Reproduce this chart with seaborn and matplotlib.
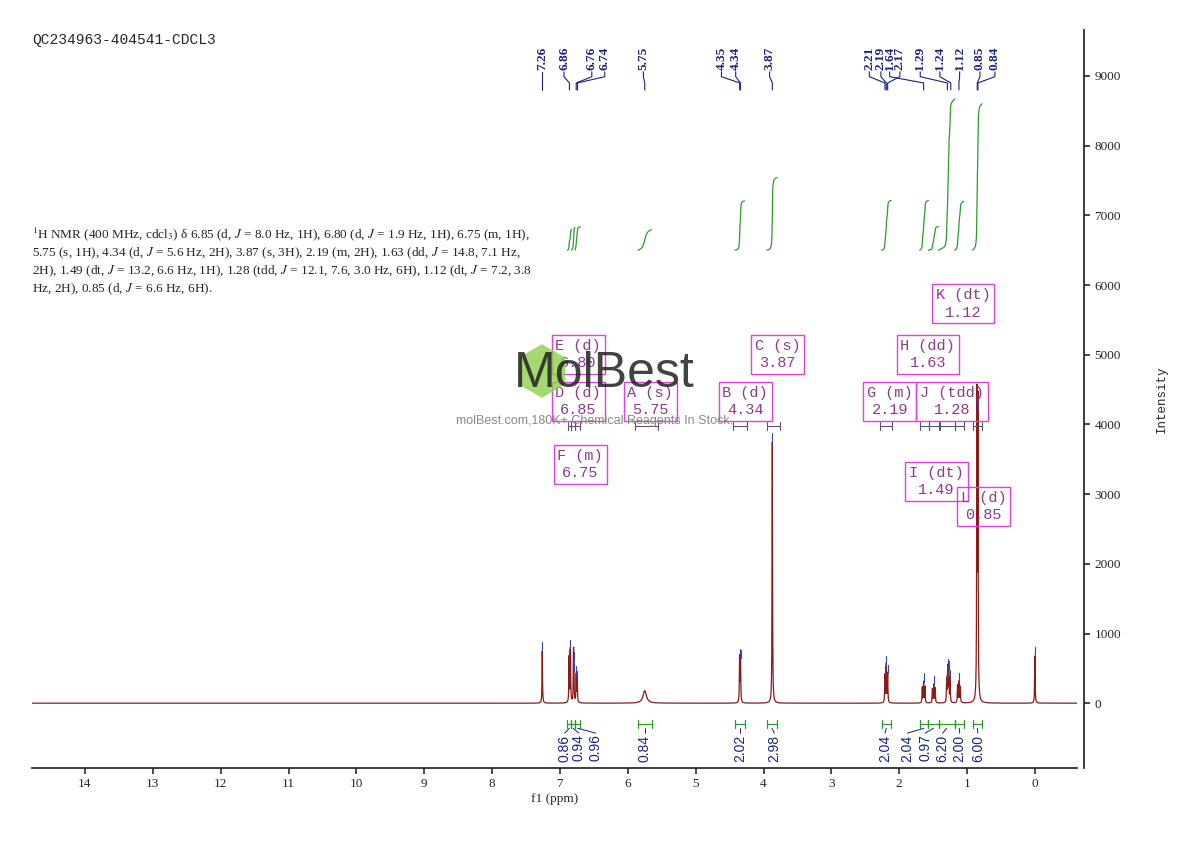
import numpy as np
import seaborn as sns
import matplotlib.pyplot as plt

sns.set_theme(style="white")
plt.rcParams["font.family"] = ["Liberation Serif", "DejaVu Sans"]

# peaks: shift (ppm), height
peak_ppm = [7.26, 6.865, 6.845, 6.80, 6.795, 6.76, 6.745, 5.75, 4.352, 4.338, 3.87,
            2.21, 2.19, 2.17, 1.66, 1.64, 1.62, 1.51, 1.49, 1.47, 1.30, 1.285, 1.27, 1.25,
            1.14, 1.12, 1.10, 0.855, 0.84, 0.0]
peak_height = [750, 650, 770, 600, 450, 400, 330, 180, 650, 640, 3750,
               400, 550, 420, 220, 300, 230, 200, 260, 210, 330, 500, 480, 350,
               250, 300, 230, 4300, 4200, 680]
peak_width = [0.004] * 7 + [0.03] + [0.004] * 21 + [0.004]

# top peak labels: label text, label x (ppm), true shift
top_labels = ["7.26", "6.86", "6.76", "6.74", "5.75", "4.35", "4.34", "3.87",
              "2.21", "2.19", "1.64", "2.17", "1.29", "1.24", "1.12", "0.85", "0.84"]
top_label_x = [7.26, 6.94, 6.53, 6.34, 5.77, 4.62, 4.41, 3.91,
               2.44, 2.27, 2.14, 1.99, 1.69, 1.40, 1.11, 0.81, 0.59]
top_label_peak = [7.26, 6.86, 6.76, 6.74, 5.75, 4.35, 4.34, 3.87,
                  2.21, 2.19, 1.64, 2.17, 1.29, 1.24, 1.12, 0.85, 0.84]

# multiplets: label, box x (ppm), box y, range
mult_labels = ["E (d)\n6.80", "D (d)\n6.85", "A (s)\n5.75", "F (m)\n6.75", "B (d)\n4.34",
               "C (s)\n3.87", "G (m)\n2.19", "H (dd)\n1.63", "J (tdd)\n1.28",
               "I (dt)\n1.49", "K (dt)\n1.12", "L (d)\n0.85"]
mult_x = [6.73, 6.73, 5.67, 6.70, 4.27, 3.79, 2.14, 1.58, 1.22, 1.45, 1.06, 0.76]
mult_y = [5000, 4330, 4330, 3430, 4330, 5000, 4330, 5000, 4330, 3180, 5730, 2820]
mult_ranges = [(6.83, 6.78), (6.88, 6.83), (5.90, 5.55), (6.78, 6.70), (4.45, 4.25),
               (3.95, 3.75), (2.28, 2.10), (1.70, 1.56), (1.40, 1.18), (1.56, 1.42),
               (1.18, 1.05), (0.92, 0.78)]

# integrals: start, end (ppm), value, label x (ppm)
int_ranges = [(6.89, 6.83), (6.83, 6.78), (6.78, 6.70), (5.85, 5.65), (4.42, 4.28),
              (3.95, 3.80), (2.26, 2.12), (1.70, 1.57), (1.57, 1.42), (1.42, 1.18),
              (1.18, 1.05), (0.92, 0.78)]
int_values = ["0.86", "0.94", "0.96", "0.84", "2.02", "2.98", "2.04", "2.04", "0.97",
              "6.20", "2.00", "6.00"]
int_label_x = [6.93, 6.72, 6.47, 5.75, 4.35, 3.84, 2.21, 1.88, 1.62, 1.36, 1.11, 0.84]

x = np.linspace(15, -0.7, 30000)
y = np.zeros_like(x)
for p, h, w in zip(peak_ppm, peak_height, peak_width):
    y += h / (1 + ((x - p) / w) ** 2)

fig = plt.figure(figsize=(11.9, 8.41), dpi=100)
ax = fig.add_axes([32 / 1190, 73 / 841, 1045 / 1190, 738 / 841])
sns.lineplot(x=x, y=y, ax=ax, color="#8b1a1a", linewidth=0.9)
ax.set_xlim(14.78, -0.62)
ax.set_ylim(-930, 9660)

# peak top markers
for p, h in zip(peak_ppm, peak_height):
    if h > 250:
        ax.plot([p, p], [h + 10, h + 130], color="#3344aa", lw=0.8)

# top labels with leader lines
for t, lx, pk in zip(top_labels, top_label_x, top_label_peak):
    ax.text(lx, 9090, t, rotation=90, ha="center", va="bottom", fontsize=9.5,
            color="#1a237e", fontweight="bold")
    ax.plot([lx, lx, pk, pk], [9060, 8990, 8900, 8800], color="#1a237e", lw=0.8)

# integral curves
for (a, b), v in zip(int_ranges, int_values):
    m = (x <= a) & (x >= b)
    c = np.cumsum(y[m])
    c = c / c[-1] * float(v) * 350
    ax.plot(x[m], 6500 + c, color="#2e9a2e", lw=0.9)
    ax.plot([a, b], [-300, -300], color="#2e9a2e", lw=0.9)
    ax.plot([a, a], [-360, -240], color="#2e9a2e", lw=0.9)
    ax.plot([b, b], [-360, -240], color="#2e9a2e", lw=0.9)
for (a, b), v, lx in zip(int_ranges, int_values, int_label_x):
    ax.plot([(a + b) / 2, lx], [-360, -430], color="#1a237e", lw=0.7)
    ax.text(lx, -450, v, rotation=90, ha="center", va="top", fontsize=10,
            color="#1a237e", family=["Liberation Sans"])

# multiplet boxes and ranges
for t, mx, my in zip(mult_labels, mult_x, mult_y):
    ax.text(mx, my, t, ha="center", va="center", fontsize=11, color="#8e3a8e",
            family=["Liberation Mono"], linespacing=1.3,
            bbox=dict(boxstyle="square,pad=0.25", fc="none", ec="#e040e0", lw=1))
for a, b in mult_ranges:
    ax.plot([a, b], [3980, 3980], color="#555577", lw=0.8)
    ax.plot([a, a], [3920, 4040], color="#555577", lw=0.8)
    ax.plot([b, b], [3920, 4040], color="#555577", lw=0.8)

# watermark
fig.text(0.455, 0.555, "\u2B22", fontsize=46, color="#8cd04a", alpha=0.8, ha="center", va="center",
         family=["DejaVu Sans"])
fig.text(0.508, 0.555, "MolBest", fontsize=36, color="#222222", alpha=0.85, ha="center",
         va="center", family=["Liberation Sans"])
fig.text(0.50, 0.499, "molBest.com,180K+ Chemical Reagents In Stock.", fontsize=9,
         color="#888888", ha="center", va="center", family=["Liberation Sans"])

fig.text(32 / 1190, 1 - 40 / 841, "QC234963-404541-CDCL3", fontsize=10.5, va="center",
         family=["Liberation Mono"])
desc = ("$^1$H NMR (400 MHz, cdcl$_3$) δ 6.85 (d, $J$ = 8.0 Hz, 1H), 6.80 (d, $J$ = 1.9 Hz, 1H), 6.75 (m, 1H),\n"
        "5.75 (s, 1H), 4.34 (d, $J$ = 5.6 Hz, 2H), 3.87 (s, 3H), 2.19 (m, 2H), 1.63 (dd, $J$ = 14.8, 7.1 Hz,\n"
        "2H), 1.49 (dt, $J$ = 13.2, 6.6 Hz, 1H), 1.28 (tdd, $J$ = 12.1, 7.6, 3.0 Hz, 6H), 1.12 (dt, $J$ = 7.2, 3.8\n"
        "Hz, 2H), 0.85 (d, $J$ = 6.6 Hz, 6H).")
plt.rcParams["mathtext.fontset"] = "stix"
fig.text(32 / 1190, 1 - 225 / 841, desc, fontsize=9.5, va="top", linespacing=1.25)

ax.spines[["top", "left"]].set_visible(False)
ax.spines["right"].set_position(("outward", 5))
ax.yaxis.tick_right()
ax.yaxis.set_label_position("right")
ax.set_yticks(range(0, 10000, 1000))
ax.set_xticks(range(0, 15))
ax.tick_params(axis="both", direction="out", length=4, labelsize=9.5, color="#333333")
ax.tick_params(axis="both", bottom=True, right=True)
ax.set_xlabel("f1 (ppm)", fontsize=9.5, labelpad=2)
ax.set_ylabel("Intensity", fontsize=9, labelpad=25, family=["Liberation Mono"])

fig.savefig("out.png", dpi=100, facecolor="white")
